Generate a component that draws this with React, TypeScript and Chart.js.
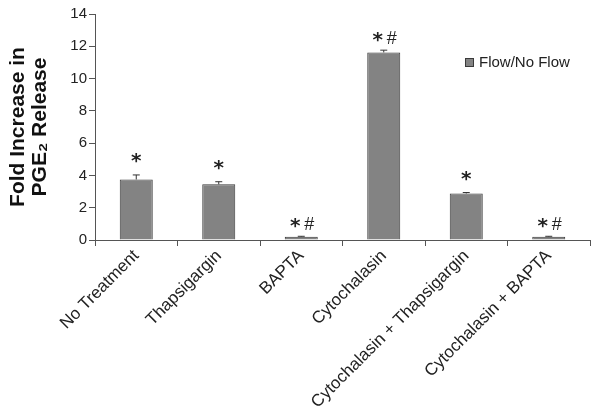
import React, { useEffect, useRef } from 'react';
import { Chart, registerables } from 'chart.js';

Chart.register(...registerables);

const categories = [
  'No Treatment',
  'Thapsigargin',
  'BAPTA',
  'Cytochalasin',
  'Cytochalasin + Thapsigargin',
  'Cytochalasin + BAPTA',
];
const values = [3.75, 3.45, 0.2, 11.62, 2.88, 0.2];
const errors = [0.28, 0.16, 0.03, 0.14, 0.06, 0.03];
const stars = ['*', '*', '*', '*', '*', '*'];
const hashes = ['', '', '#', '#', '', '#'];
const seriesName = 'Flow/No Flow';
const yTitle = ['Fold Increase in', 'PGE\u2082 Release'];
const yMin = 0;
const yMax = 14;
const yStep = 2;

const FONT = "'Liberation Sans', Arial, sans-serif";
const BAR_FILL = '#838383';
const BAR_BORDER = '#3a3a3a';
const AXIS = '#555555';

const extrasPlugin = {
  id: 'extras',
  afterDatasetsDraw(chart: any) {
    const ctx = chart.ctx;
    const yScale = chart.scales.y;
    const meta = chart.getDatasetMeta(0);
    ctx.save();
    meta.data.forEach((bar: any, i: number) => {
      const x = bar.x;
      const yTop = yScale.getPixelForValue(values[i] + errors[i]);
      const yBar = bar.y;
      ctx.strokeStyle = '#333333';
      ctx.lineWidth = 1;
      ctx.beginPath();
      ctx.moveTo(x, yBar);
      ctx.lineTo(x, yTop);
      ctx.moveTo(x - 3.5, yTop);
      ctx.lineTo(x + 3.5, yTop);
      ctx.stroke();
      ctx.fillStyle = '#222222';
      ctx.textBaseline = 'alphabetic';
      const hasHash = hashes[i] !== '';
      const starX = hasHash ? x - 6 : x;
      const starLift = hasHash ? 4 : 8;
      ctx.font = `bold 20px 'DejaVu Sans', sans-serif`;
      ctx.textAlign = 'center';
      ctx.fillText(stars[i], starX, yTop - starLift);
      if (hasHash) {
        ctx.font = `18px ${FONT}`;
        ctx.textAlign = 'center';
        ctx.fillText(hashes[i], x + 8, yTop - 6);
      }
    });
    // legend
    const lx = 465;
    const ly = 58;
    ctx.fillStyle = BAR_FILL;
    ctx.fillRect(lx, ly, 9, 9);
    ctx.strokeStyle = BAR_BORDER;
    ctx.strokeRect(lx + 0.5, ly + 0.5, 8, 8);
    ctx.fillStyle = '#222222';
    ctx.font = `15px ${FONT}`;
    ctx.textAlign = 'left';
    ctx.textBaseline = 'middle';
    ctx.fillText(seriesName, lx + 14, ly + 5);
    ctx.restore();
  },
};

export default function App() {
  const canvasRef = useRef<HTMLCanvasElement | null>(null);

  useEffect(() => {
    if (!canvasRef.current) return;
    const chart = new Chart(canvasRef.current, {
      type: 'bar',
      data: {
        labels: categories,
        datasets: [
          {
            label: seriesName,
            data: values,
            backgroundColor: BAR_FILL,
            borderColor: BAR_BORDER,
            borderWidth: 1,
            categoryPercentage: 1,
            barPercentage: 0.4,
          },
        ],
      },
      options: {
        responsive: false,
        animation: false,
        devicePixelRatio: 1,
        layout: { padding: { top: 14, right: 10, left: 0, bottom: 0 } },
        plugins: {
          legend: { display: false },
          tooltip: { enabled: false },
        },
        scales: {
          x: {
            grid: {
              display: true,
              drawOnChartArea: false,
              drawTicks: true,
              tickLength: 6,
              color: AXIS,
              offset: true,
            },
            border: { display: true, color: AXIS, width: 1 },
            ticks: {
              minRotation: 45,
              maxRotation: 45,
              autoSkip: false,
              color: '#222222',
              font: { family: FONT, size: 17 },
              padding: 0,
            },
            afterFit(scale: any) {
              scale.height = 179;
            },
          },
          y: {
            min: yMin,
            max: yMax,
            ticks: {
              stepSize: yStep,
              color: '#222222',
              font: { family: FONT, size: 15 },
              padding: 2,
            },
            grid: {
              display: true,
              drawOnChartArea: false,
              drawTicks: true,
              tickLength: 6,
              color: AXIS,
            },
            border: { display: true, color: AXIS, width: 1 },
            title: {
              display: true,
              text: yTitle,
              color: '#111111',
              font: { family: FONT, size: 21, weight: 'bold', lineHeight: 1.05 },
              padding: { top: 7, bottom: 0 },
            },
            afterFit(scale: any) {
              scale.width = 95;
            },
          },
        },
      },
      plugins: [extrasPlugin],
    });
    return () => chart.destroy();
  }, []);

  return (
    <div style={{ position: 'absolute', left: 0, top: 0, width: 600, height: 419, background: '#fff' }}>
      <canvas ref={canvasRef} width={600} height={419} />
    </div>
  );
}
